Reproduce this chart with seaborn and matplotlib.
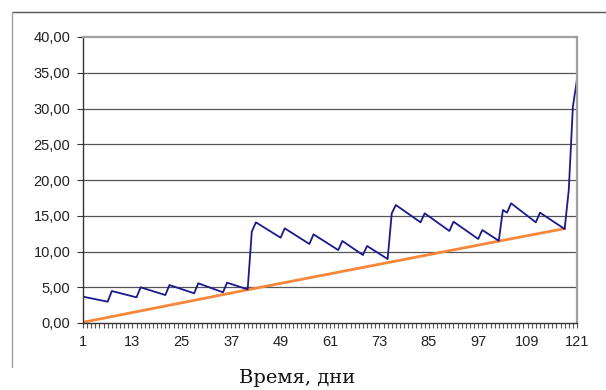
import numpy as np
import pandas as pd
import matplotlib
matplotlib.use("Agg")
import matplotlib.pyplot as plt
from matplotlib.lines import Line2D
from matplotlib.ticker import MultipleLocator, FixedLocator, FuncFormatter
import seaborn as sns

# blue series: vertices of the saw-tooth curve (day, value)
blue_days = [1, 7, 8, 14, 15, 21, 22, 28, 29, 35, 36, 41, 42, 43, 49, 50, 56, 57,
             63, 64, 69, 70, 75, 76, 77, 83, 84, 90, 91, 97, 98, 102, 103, 104,
             105, 111, 112, 118, 119, 120, 121]
blue_vals = [3.68, 2.98, 4.47, 3.59, 4.99, 3.91, 5.31, 4.15, 5.55, 4.29, 5.64, 4.70,
             12.77, 14.08, 11.93, 13.24, 11.05, 12.40, 10.20, 11.47, 9.51, 10.77,
             8.95, 15.34, 16.50, 14.08, 15.34, 12.87, 14.17, 11.75, 13.00, 11.50,
             15.80, 15.43, 16.74, 14.08, 15.43, 13.15, 18.60, 30.25, 34.08]

# orange series (nearly straight line)
orange_days = [1, 41, 102, 118]
orange_vals = [0.10, 4.65, 11.45, 13.20]

x_tick_labels = [1, 13, 25, 37, 49, 61, 73, 85, 97, 109, 121]
x_label = "Время, дни"

blue_df = pd.DataFrame({"day": blue_days, "value": blue_vals})
orange_df = pd.DataFrame({"day": orange_days, "value": orange_vals})

sns.set_style("white")
plt.rcParams["font.family"] = ["Liberation Sans", "DejaVu Sans"]

fig = plt.figure(figsize=(6.06, 3.90), dpi=100)
ax = fig.add_axes([83 / 606, 1 - 323 / 390, 494 / 606, 286 / 390])

sns.lineplot(data=orange_df, x="day", y="value", ax=ax, color="#F7873A", lw=2.0)
sns.lineplot(data=blue_df, x="day", y="value", ax=ax, color="#1A1A8C", lw=1.3)

ax.set_xlim(1, 121)
ax.set_ylim(0, 40)
ax.yaxis.set_major_locator(MultipleLocator(5))
ax.yaxis.set_major_formatter(FuncFormatter(lambda v, p: f"{v:.2f}".replace(".", ",")))
ax.xaxis.set_major_locator(FixedLocator(x_tick_labels))
ax.xaxis.set_minor_locator(MultipleLocator(1))
ax.set_xlabel("")
ax.set_ylabel("")

for y in range(5, 40, 5):
    ax.axhline(y, color="#555555", lw=0.9, zorder=0)

ax.tick_params(axis="x", which="both", direction="out", length=3.5, width=0.8,
               color="#555555", labelsize=10.5, pad=5, bottom=True)
ax.tick_params(axis="y", which="major", direction="out", length=4, width=0.8,
               color="#333333", labelsize=10.5, pad=5, left=True)
for lab in ax.get_xticklabels() + ax.get_yticklabels():
    lab.set_color("#222222")

ax.spines["left"].set_color("#333333")
ax.spines["left"].set_linewidth(1.0)
ax.spines["bottom"].set_color("#333333")
ax.spines["bottom"].set_linewidth(1.0)
ax.spines["top"].set_color("#a0a0a0")
ax.spines["top"].set_linewidth(1.6)
ax.spines["right"].set_color("#a0a0a0")
ax.spines["right"].set_linewidth(1.6)

# outer chart frame
fig.add_artist(Line2D([12 / 606, 1.0], [1 - 12 / 390, 1 - 12 / 390],
                      transform=fig.transFigure, color="#555555", lw=1.0))
fig.add_artist(Line2D([12 / 606, 12 / 606], [1 - 12 / 390, 1 - 367 / 390],
                      transform=fig.transFigure, color="#a0a0a0", lw=1.0))

fig.text(297 / 606, 1 - 378 / 390, x_label, ha="center", va="center",
         family=["DejaVu Serif"], fontsize=14, color="#111111")

fig.savefig("out.png", dpi=100)
